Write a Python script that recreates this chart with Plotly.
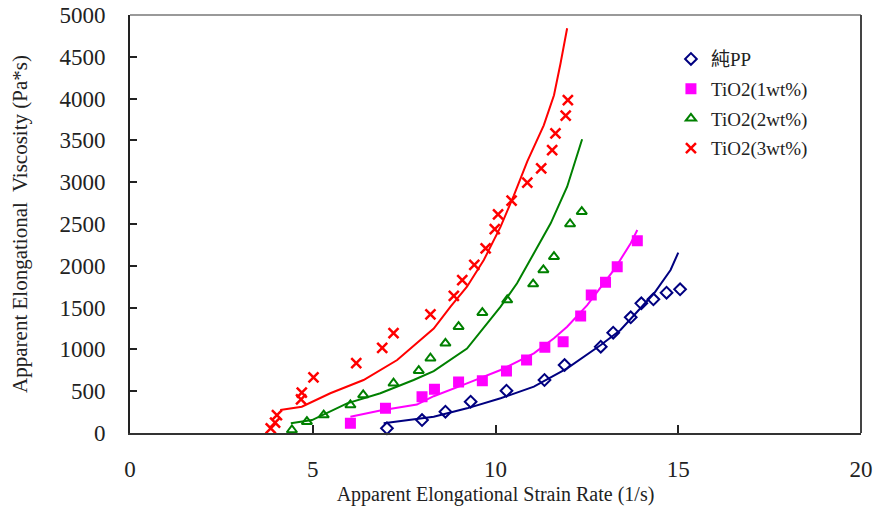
import plotly.graph_objects as go

# ---- data ----
pp_x = [7.03, 7.99, 8.63, 9.32, 10.30, 11.34, 11.89, 12.88, 13.22, 13.70, 13.99, 14.32, 14.68, 15.05]
pp_y = [56, 155, 255, 374, 506, 634, 813, 1032, 1200, 1384, 1551, 1599, 1678, 1719]

t1_x = [6.03, 6.99, 7.99, 8.33, 8.99, 9.64, 10.30, 10.85, 11.35, 11.85, 12.33, 12.62, 13.01, 13.33, 13.88]
t1_y = [116, 295, 434, 523, 610, 626, 742, 873, 1025, 1092, 1400, 1651, 1803, 1989, 2300]

t2_x = [4.43, 4.84, 5.30, 6.03, 6.38, 7.21, 7.90, 8.22, 8.63, 8.99, 9.64, 10.32, 11.03, 11.31, 11.60, 12.04, 12.36]
t2_y = [36, 135, 215, 335, 455, 595, 745, 894, 1073, 1272, 1439, 1591, 1782, 1950, 2109, 2500, 2647]

t3_x = [3.85, 3.97, 4.02, 4.68, 4.70, 5.02, 6.19, 6.90, 7.21, 8.22, 8.86, 9.09, 9.42, 9.73, 9.98,
        10.07, 10.44, 10.87, 11.25, 11.55, 11.64, 11.92, 11.98]
t3_y = [56, 123, 215, 403, 482, 666, 837, 1017, 1196, 1420, 1639, 1830, 2010, 2209, 2440,
        2616, 2779, 2994, 3166, 3385, 3585, 3795, 3983]

# fitted curves
pp_fit_x = [6.94, 7.67, 8.31, 9.22, 10.14, 11.05, 11.96, 12.88, 13.42, 14.34, 14.79, 15.00]
pp_fit_y = [116, 155, 195, 295, 415, 554, 774, 1053, 1232, 1671, 1950, 2157]

t1_fit_x = [6.03, 6.85, 7.85, 8.31, 9.22, 10.14, 11.05, 11.60, 11.96, 12.51, 13.24, 13.70, 13.88]
t1_fit_y = [195, 270, 340, 440, 594, 754, 953, 1133, 1272, 1530, 1950, 2269, 2428]

t2_fit_x = [4.40, 4.98, 5.94, 6.85, 7.76, 8.31, 9.22, 10.14, 10.59, 11.05, 11.51, 11.96, 12.19, 12.37]
t2_fit_y = [116, 155, 355, 475, 634, 740, 1010, 1511, 1791, 2150, 2508, 2946, 3266, 3513]

t3_fit_x = [4.11, 4.70, 5.48, 6.39, 7.31, 8.31, 8.77, 9.22, 9.68, 10.14, 10.50, 10.87, 11.32, 11.60, 11.78, 11.96]
t3_fit_y = [275, 315, 475, 634, 873, 1250, 1511, 1750, 2069, 2468, 2840, 3250, 3680, 4040, 4422, 4841]

names = ["純PP", "TiO2(1wt%)", "TiO2(2wt%)", "TiO2(3wt%)"]
colors = ["#000080", "#FF00FF", "#008000", "#FF0000"]
symbols = ["diamond-open", "square", "triangle-up-open", "x-thin-open"]
sizes = [9, 9, 9, 10]

xs = [pp_x, t1_x, t2_x, t3_x]
ys = [pp_y, t1_y, t2_y, t3_y]
fxs = [pp_fit_x, t1_fit_x, t2_fit_x, t3_fit_x]
fys = [pp_fit_y, t1_fit_y, t2_fit_y, t3_fit_y]

fig = go.Figure()
for i in range(4):
    fig.add_trace(go.Scatter(x=fxs[i], y=fys[i], mode="lines", line=dict(color=colors[i], width=2),
                             showlegend=False, hoverinfo="skip"))
for i in range(4):
    fig.add_trace(go.Scatter(x=xs[i], y=ys[i], mode="markers", name=names[i], legendgroup=str(i),
                             marker=dict(symbol=symbols[i], size=sizes[i], color=colors[i],
                                         line=dict(color=colors[i], width=2.5 if i == 3 else 2)),
                             cliponaxis=False))

serif = "Liberation Serif, Times New Roman, Noto Sans CJK TC, serif"
fig.update_layout(
    width=873, height=512,
    margin=dict(l=130, r=12, t=15, b=79),
    paper_bgcolor="white", plot_bgcolor="white",
    font=dict(family=serif, color="#222"),
    showlegend=True,
    legend=dict(x=0.74, y=0.94, xanchor="left", yanchor="top", font=dict(size=19, family=serif),
                bgcolor="rgba(0,0,0,0)", tracegroupgap=2, itemwidth=30),
    xaxis=dict(range=[0, 20], tick0=0, dtick=5, showgrid=False, zeroline=False, automargin=False,
               showline=True, linecolor="#333", linewidth=2, mirror=False,
               ticks="inside", ticklen=8, tickwidth=2, tickcolor="#222",
               tickfont=dict(size=23, family=serif), ticklabelstandoff=14,
               title=dict(text="Apparent Elongational Strain Rate (1/s)", font=dict(size=20, family=serif), standoff=6)),
    yaxis=dict(range=[0, 5000], tick0=0, dtick=500, showgrid=False, zeroline=False, automargin=False,
               showline=True, linecolor="#222", linewidth=2, mirror=False,
               ticks="inside", ticklen=7, tickwidth=2, tickcolor="#222",
               tickfont=dict(size=23, family=serif), ticklabelstandoff=18,
               title=dict(text="Apparent Elongational  Viscosity (Pa*s)", font=dict(size=21, family=serif), standoff=26)),
    shapes=[
        dict(type="line", xref="paper", yref="paper", x0=0, x1=1, y0=1, y1=1, line=dict(color="#999", width=2)),
        dict(type="line", xref="paper", yref="paper", x0=1, x1=1, y0=0, y1=1, line=dict(color="#444", width=2)),
    ],
)

fig.write_html("out.html")
